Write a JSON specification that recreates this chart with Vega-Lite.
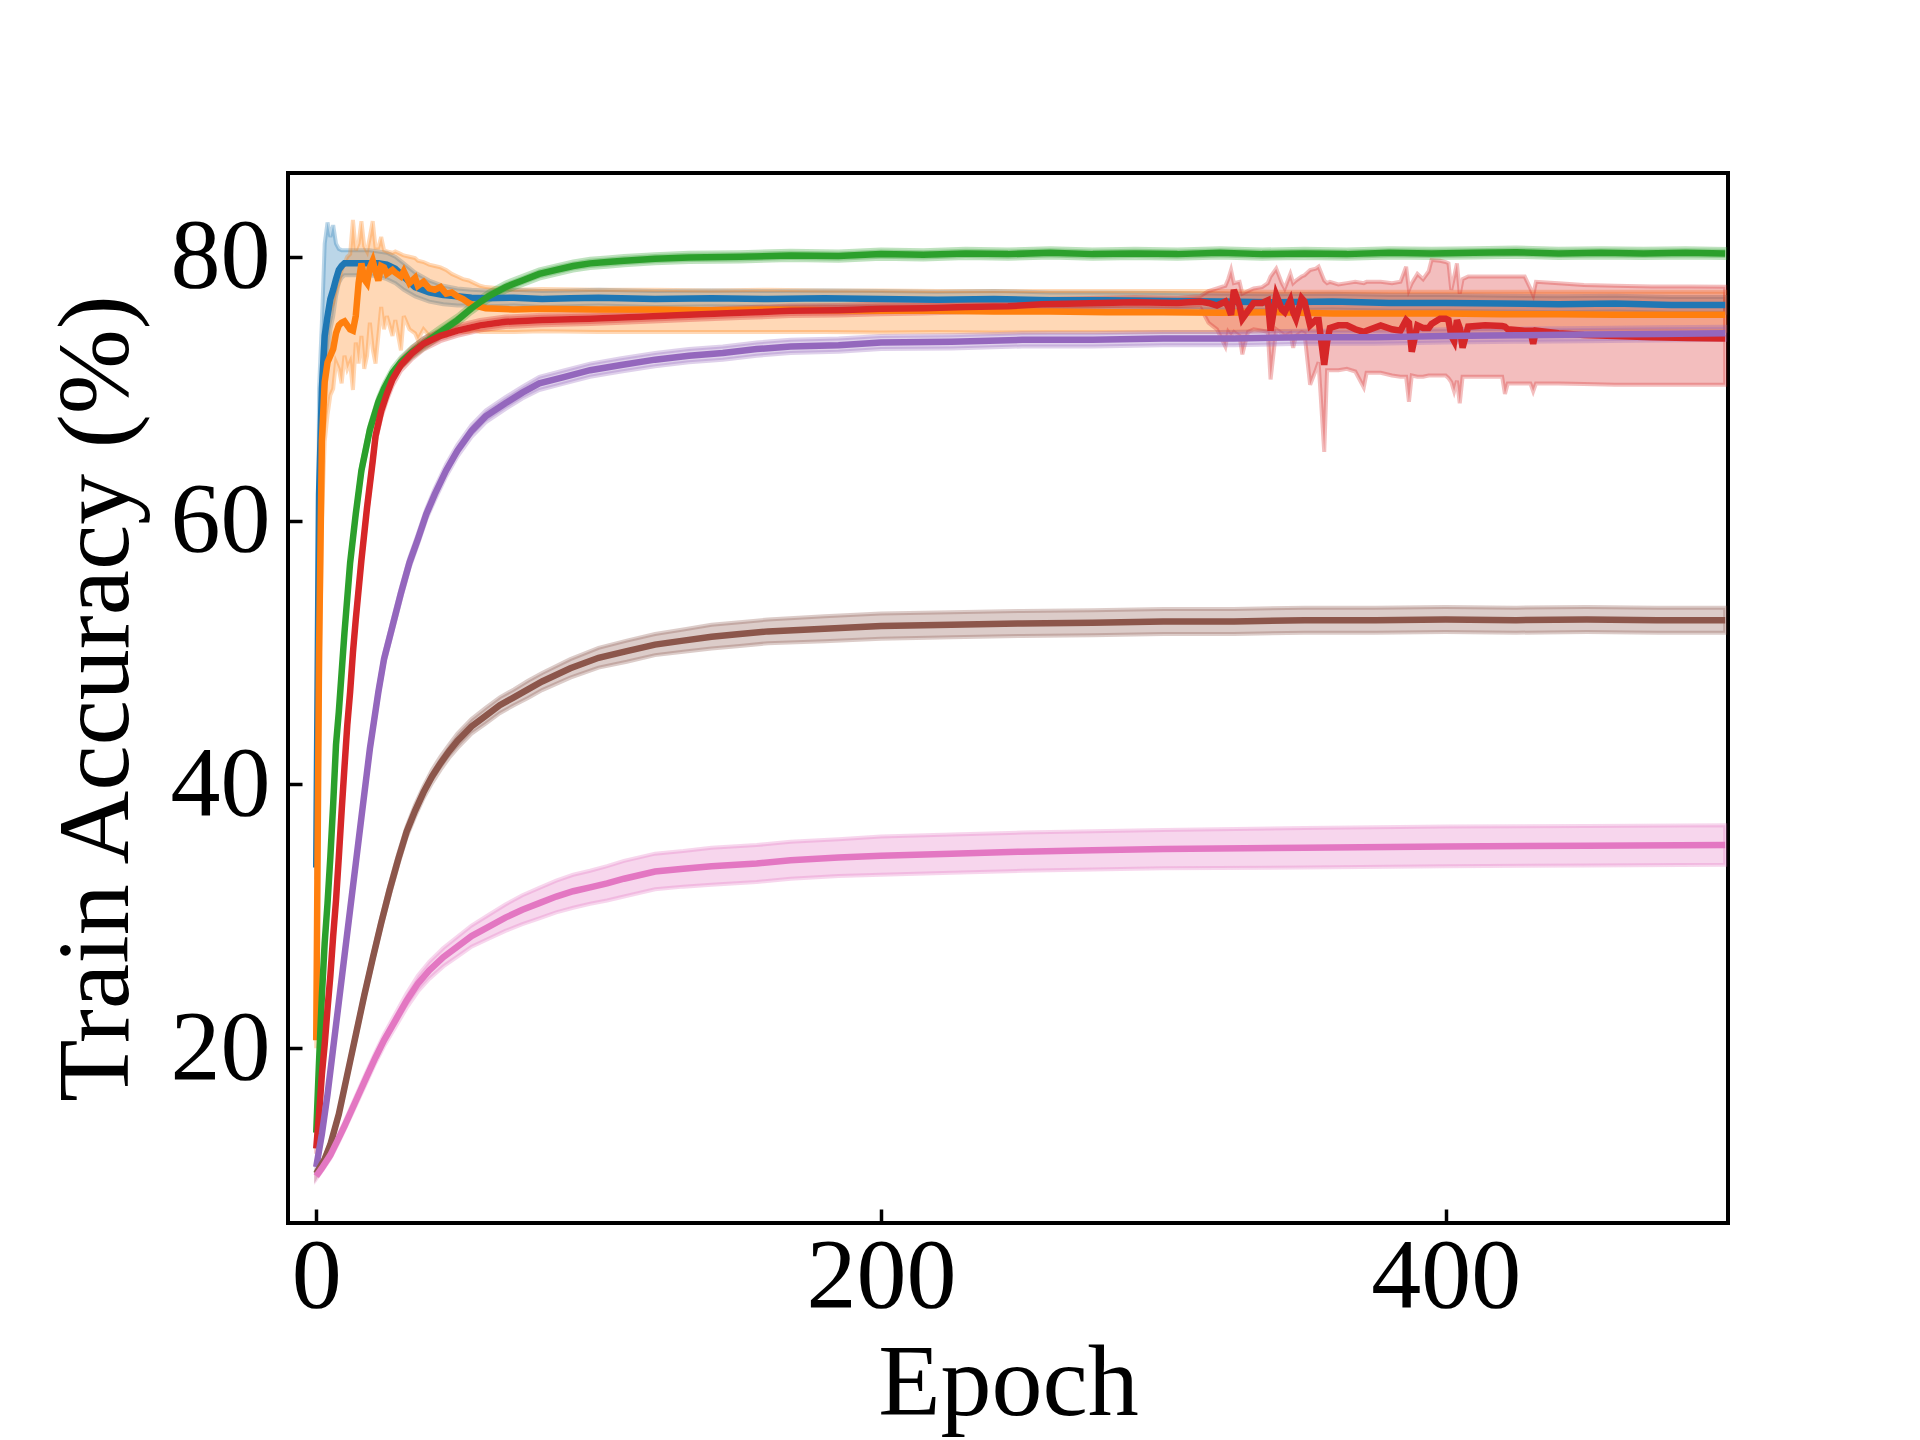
{
  "$schema": "https://vega.github.io/schema/vega-lite/v6.json",
  "width": 1440,
  "height": 1050,
  "autosize": {"type": "none"},
  "padding": {"left": 288, "top": 173, "right": 192, "bottom": 217},
  "background": "white",
  "config": {
    "view": {"stroke": "black", "strokeWidth": 4},
    "axis": {
      "grid": false,
      "domain": false,
      "tickSize": -14,
      "tickWidth": 3.5,
      "tickColor": "black",
      "labelFont": "Liberation Serif",
      "labelFontSize": 100,
      "labelColor": "black",
      "labelFlush": false,
      "labelOverlap": false,
      "titleFont": "Liberation Serif",
      "titleFontSize": 102,
      "titleFontWeight": "normal",
      "titleColor": "black"
    }
  },
  "data": {
    "values": [
      {"s": "s1", "e": 0, "m": 33.7, "l": 32.8, "h": 34.6},
      {"s": "s1", "e": 1, "m": 62, "l": 52, "h": 70},
      {"s": "s1", "e": 2, "m": 70, "l": 64, "h": 75},
      {"s": "s1", "e": 3, "m": 74, "l": 70, "h": 81},
      {"s": "s1", "e": 4, "m": 75.5, "l": 72, "h": 82.6},
      {"s": "s1", "e": 5, "m": 76.8, "l": 74.5, "h": 81.5},
      {"s": "s1", "e": 6, "m": 77.5, "l": 75.5, "h": 82.4},
      {"s": "s1", "e": 7, "m": 78.3, "l": 77, "h": 81},
      {"s": "s1", "e": 8, "m": 79, "l": 78, "h": 80.6},
      {"s": "s1", "e": 9, "m": 79.3, "l": 78.4, "h": 80.5},
      {"s": "s1", "e": 10, "m": 79.5, "l": 78.6, "h": 80.5},
      {"s": "s1", "e": 13, "m": 79.5, "l": 78.6, "h": 80.5},
      {"s": "s1", "e": 16, "m": 79.5, "l": 78.6, "h": 80.5},
      {"s": "s1", "e": 19, "m": 79.5, "l": 78.6, "h": 80.5},
      {"s": "s1", "e": 22, "m": 79.5, "l": 78.5, "h": 80.4},
      {"s": "s1", "e": 25, "m": 79.4, "l": 78.3, "h": 80.3},
      {"s": "s1", "e": 28, "m": 79.1, "l": 78.0, "h": 80.0},
      {"s": "s1", "e": 31, "m": 78.5, "l": 77.5, "h": 79.5},
      {"s": "s1", "e": 35, "m": 77.7, "l": 77.0, "h": 78.8},
      {"s": "s1", "e": 40, "m": 77.3, "l": 76.6, "h": 78.2},
      {"s": "s1", "e": 45, "m": 77.1, "l": 76.4, "h": 77.8},
      {"s": "s1", "e": 50, "m": 77.0, "l": 76.3, "h": 77.6},
      {"s": "s1", "e": 55, "m": 76.9, "l": 76.3, "h": 77.5},
      {"s": "s1", "e": 60, "m": 76.85, "l": 76.25, "h": 77.45},
      {"s": "s1", "e": 70, "m": 76.9, "l": 76.3, "h": 77.5},
      {"s": "s1", "e": 80, "m": 76.8, "l": 76.2, "h": 77.4},
      {"s": "s1", "e": 90, "m": 76.85, "l": 76.25, "h": 77.45},
      {"s": "s1", "e": 100, "m": 76.9, "l": 76.3, "h": 77.5},
      {"s": "s1", "e": 120, "m": 76.8, "l": 76.2, "h": 77.4},
      {"s": "s1", "e": 140, "m": 76.85, "l": 76.25, "h": 77.45},
      {"s": "s1", "e": 160, "m": 76.8, "l": 76.2, "h": 77.4},
      {"s": "s1", "e": 180, "m": 76.85, "l": 76.25, "h": 77.45},
      {"s": "s1", "e": 200, "m": 76.8, "l": 76.2, "h": 77.4},
      {"s": "s1", "e": 220, "m": 76.75, "l": 76.15, "h": 77.35},
      {"s": "s1", "e": 240, "m": 76.8, "l": 76.2, "h": 77.4},
      {"s": "s1", "e": 260, "m": 76.7, "l": 76.1, "h": 77.3},
      {"s": "s1", "e": 280, "m": 76.7, "l": 76.1, "h": 77.3},
      {"s": "s1", "e": 300, "m": 76.65, "l": 76.05, "h": 77.25},
      {"s": "s1", "e": 320, "m": 76.6, "l": 76.0, "h": 77.2},
      {"s": "s1", "e": 340, "m": 76.55, "l": 75.95, "h": 77.15},
      {"s": "s1", "e": 360, "m": 76.6, "l": 76.0, "h": 77.2},
      {"s": "s1", "e": 380, "m": 76.5, "l": 75.9, "h": 77.1},
      {"s": "s1", "e": 400, "m": 76.5, "l": 75.9, "h": 77.1},
      {"s": "s1", "e": 420, "m": 76.45, "l": 75.85, "h": 77.05},
      {"s": "s1", "e": 440, "m": 76.4, "l": 75.8, "h": 77.0},
      {"s": "s1", "e": 460, "m": 76.45, "l": 75.85, "h": 77.05},
      {"s": "s1", "e": 480, "m": 76.35, "l": 75.75, "h": 76.95},
      {"s": "s1", "e": 499, "m": 76.35, "l": 75.75, "h": 76.95},

      {"s": "s2", "e": 0, "m": 20.6, "l": 20.0, "h": 21.2},
      {"s": "s2", "e": 1, "m": 50, "l": 42, "h": 58},
      {"s": "s2", "e": 2, "m": 66, "l": 60, "h": 71},
      {"s": "s2", "e": 3, "m": 70.5, "l": 66, "h": 74},
      {"s": "s2", "e": 4, "m": 72.0, "l": 68, "h": 75.5},
      {"s": "s2", "e": 5, "m": 72.5, "l": 69.5, "h": 76},
      {"s": "s2", "e": 6, "m": 73.0, "l": 70, "h": 76.5},
      {"s": "s2", "e": 7, "m": 74.2, "l": 72, "h": 77.5},
      {"s": "s2", "e": 8, "m": 74.8, "l": 71.5, "h": 78},
      {"s": "s2", "e": 9, "m": 75.0, "l": 70.4, "h": 79},
      {"s": "s2", "e": 10, "m": 75.1, "l": 72.5, "h": 79.5},
      {"s": "s2", "e": 11, "m": 74.8, "l": 71.5, "h": 80},
      {"s": "s2", "e": 12, "m": 74.5, "l": 72, "h": 80.2},
      {"s": "s2", "e": 13, "m": 74.4, "l": 69.9, "h": 82.8},
      {"s": "s2", "e": 14, "m": 75.5, "l": 73.5, "h": 80.5},
      {"s": "s2", "e": 15, "m": 78.0, "l": 71.9, "h": 81},
      {"s": "s2", "e": 16, "m": 79.5, "l": 74, "h": 82.7},
      {"s": "s2", "e": 17, "m": 78.3, "l": 71.5, "h": 80.8},
      {"s": "s2", "e": 18, "m": 78.0, "l": 72.5, "h": 80.4},
      {"s": "s2", "e": 19, "m": 79.2, "l": 75, "h": 81.5},
      {"s": "s2", "e": 20, "m": 79.7, "l": 73, "h": 82.7},
      {"s": "s2", "e": 21, "m": 78.9, "l": 71.9, "h": 80.7},
      {"s": "s2", "e": 22, "m": 78.2, "l": 74, "h": 80.7},
      {"s": "s2", "e": 23, "m": 79.3, "l": 76.2, "h": 81.5},
      {"s": "s2", "e": 24, "m": 79.2, "l": 74.5, "h": 80.5},
      {"s": "s2", "e": 25, "m": 78.7, "l": 75.5, "h": 80.4},
      {"s": "s2", "e": 27, "m": 79.0, "l": 74.0, "h": 80.3},
      {"s": "s2", "e": 28, "m": 78.8, "l": 75.2, "h": 80.4},
      {"s": "s2", "e": 30, "m": 78.5, "l": 72.9, "h": 80.2},
      {"s": "s2", "e": 31, "m": 78.9, "l": 75.5, "h": 80.1},
      {"s": "s2", "e": 33, "m": 78.0, "l": 74.5, "h": 80.0},
      {"s": "s2", "e": 35, "m": 78.4, "l": 74.2, "h": 79.9},
      {"s": "s2", "e": 36, "m": 77.8, "l": 73.7, "h": 79.7},
      {"s": "s2", "e": 38, "m": 78.1, "l": 74.5, "h": 79.6},
      {"s": "s2", "e": 40, "m": 77.6, "l": 74.0, "h": 79.4},
      {"s": "s2", "e": 42, "m": 77.5, "l": 73.9, "h": 79.3},
      {"s": "s2", "e": 44, "m": 77.7, "l": 74.2, "h": 79.2},
      {"s": "s2", "e": 46, "m": 77.2, "l": 74.0, "h": 79.0},
      {"s": "s2", "e": 48, "m": 77.3, "l": 74.3, "h": 78.7},
      {"s": "s2", "e": 50, "m": 77.0, "l": 74.4, "h": 78.5},
      {"s": "s2", "e": 52, "m": 76.8, "l": 74.3, "h": 78.3},
      {"s": "s2", "e": 54, "m": 76.5, "l": 74.3, "h": 78.2},
      {"s": "s2", "e": 56, "m": 76.3, "l": 74.4, "h": 78.0},
      {"s": "s2", "e": 58, "m": 76.2, "l": 74.3, "h": 77.8},
      {"s": "s2", "e": 60, "m": 76.1, "l": 74.3, "h": 77.7},
      {"s": "s2", "e": 70, "m": 76.0, "l": 74.3, "h": 77.5},
      {"s": "s2", "e": 80, "m": 76.05, "l": 74.35, "h": 77.55},
      {"s": "s2", "e": 100, "m": 76.0, "l": 74.3, "h": 77.5},
      {"s": "s2", "e": 120, "m": 76.0, "l": 74.3, "h": 77.5},
      {"s": "s2", "e": 140, "m": 75.95, "l": 74.3, "h": 77.45},
      {"s": "s2", "e": 160, "m": 76.0, "l": 74.3, "h": 77.5},
      {"s": "s2", "e": 180, "m": 75.95, "l": 74.3, "h": 77.45},
      {"s": "s2", "e": 200, "m": 75.9, "l": 74.25, "h": 77.45},
      {"s": "s2", "e": 220, "m": 75.9, "l": 74.3, "h": 77.4},
      {"s": "s2", "e": 240, "m": 75.85, "l": 74.25, "h": 77.4},
      {"s": "s2", "e": 260, "m": 75.85, "l": 74.3, "h": 77.4},
      {"s": "s2", "e": 280, "m": 75.8, "l": 74.3, "h": 77.4},
      {"s": "s2", "e": 300, "m": 75.8, "l": 74.3, "h": 77.4},
      {"s": "s2", "e": 320, "m": 75.75, "l": 74.3, "h": 77.4},
      {"s": "s2", "e": 340, "m": 75.8, "l": 74.35, "h": 77.35},
      {"s": "s2", "e": 360, "m": 75.7, "l": 74.3, "h": 77.35},
      {"s": "s2", "e": 380, "m": 75.7, "l": 74.35, "h": 77.35},
      {"s": "s2", "e": 400, "m": 75.7, "l": 74.35, "h": 77.35},
      {"s": "s2", "e": 420, "m": 75.65, "l": 74.4, "h": 77.35},
      {"s": "s2", "e": 440, "m": 75.65, "l": 74.35, "h": 77.35},
      {"s": "s2", "e": 460, "m": 75.6, "l": 74.4, "h": 77.35},
      {"s": "s2", "e": 480, "m": 75.6, "l": 74.4, "h": 77.35},
      {"s": "s2", "e": 499, "m": 75.6, "l": 74.4, "h": 77.35},

      {"s": "s3", "e": 0, "m": 13.6, "l": 13.2, "h": 14.0},
      {"s": "s3", "e": 1, "m": 19, "l": 18.6, "h": 19.4},
      {"s": "s3", "e": 2, "m": 24, "l": 23.6, "h": 24.4},
      {"s": "s3", "e": 3, "m": 28, "l": 27.6, "h": 28.4},
      {"s": "s3", "e": 4, "m": 31, "l": 30.6, "h": 31.4},
      {"s": "s3", "e": 5, "m": 34.5, "l": 34.1, "h": 34.9},
      {"s": "s3", "e": 6, "m": 38.5, "l": 38.1, "h": 38.9},
      {"s": "s3", "e": 7, "m": 43, "l": 42.6, "h": 43.4},
      {"s": "s3", "e": 8, "m": 45.5, "l": 45.1, "h": 45.9},
      {"s": "s3", "e": 9, "m": 48.5, "l": 48.1, "h": 48.9},
      {"s": "s3", "e": 10, "m": 51.5, "l": 51.1, "h": 51.9},
      {"s": "s3", "e": 12, "m": 56.8, "l": 56.4, "h": 57.2},
      {"s": "s3", "e": 14, "m": 60.5, "l": 60.1, "h": 60.9},
      {"s": "s3", "e": 16, "m": 63.8, "l": 63.4, "h": 64.2},
      {"s": "s3", "e": 19, "m": 66.9, "l": 66.5, "h": 67.3},
      {"s": "s3", "e": 22, "m": 69, "l": 68.6, "h": 69.4},
      {"s": "s3", "e": 24, "m": 70, "l": 69.6, "h": 70.4},
      {"s": "s3", "e": 27, "m": 71.2, "l": 70.8, "h": 71.6},
      {"s": "s3", "e": 30, "m": 72, "l": 71.6, "h": 72.4},
      {"s": "s3", "e": 34, "m": 72.8, "l": 72.4, "h": 73.2},
      {"s": "s3", "e": 38, "m": 73.4, "l": 73.0, "h": 73.8},
      {"s": "s3", "e": 44, "m": 74.3, "l": 73.9, "h": 74.7},
      {"s": "s3", "e": 50, "m": 75.2, "l": 74.85, "h": 75.55},
      {"s": "s3", "e": 55, "m": 76.1, "l": 75.75, "h": 76.45},
      {"s": "s3", "e": 61, "m": 77.0, "l": 76.65, "h": 77.35},
      {"s": "s3", "e": 67, "m": 77.7, "l": 77.35, "h": 78.05},
      {"s": "s3", "e": 73, "m": 78.2, "l": 77.85, "h": 78.55},
      {"s": "s3", "e": 79, "m": 78.7, "l": 78.35, "h": 79.05},
      {"s": "s3", "e": 85, "m": 79.0, "l": 78.65, "h": 79.35},
      {"s": "s3", "e": 91, "m": 79.3, "l": 78.95, "h": 79.65},
      {"s": "s3", "e": 97, "m": 79.5, "l": 79.15, "h": 79.85},
      {"s": "s3", "e": 103, "m": 79.6, "l": 79.25, "h": 79.95},
      {"s": "s3", "e": 109, "m": 79.7, "l": 79.35, "h": 80.05},
      {"s": "s3", "e": 120, "m": 79.85, "l": 79.5, "h": 80.2},
      {"s": "s3", "e": 132, "m": 79.95, "l": 79.6, "h": 80.3},
      {"s": "s3", "e": 150, "m": 80.0, "l": 79.65, "h": 80.35},
      {"s": "s3", "e": 168, "m": 80.1, "l": 79.75, "h": 80.45},
      {"s": "s3", "e": 185, "m": 80.05, "l": 79.7, "h": 80.4},
      {"s": "s3", "e": 200, "m": 80.2, "l": 79.85, "h": 80.55},
      {"s": "s3", "e": 215, "m": 80.15, "l": 79.8, "h": 80.5},
      {"s": "s3", "e": 230, "m": 80.25, "l": 79.9, "h": 80.6},
      {"s": "s3", "e": 245, "m": 80.2, "l": 79.85, "h": 80.55},
      {"s": "s3", "e": 260, "m": 80.3, "l": 79.95, "h": 80.65},
      {"s": "s3", "e": 275, "m": 80.2, "l": 79.85, "h": 80.55},
      {"s": "s3", "e": 290, "m": 80.25, "l": 79.9, "h": 80.6},
      {"s": "s3", "e": 305, "m": 80.2, "l": 79.85, "h": 80.55},
      {"s": "s3", "e": 320, "m": 80.3, "l": 79.95, "h": 80.65},
      {"s": "s3", "e": 335, "m": 80.2, "l": 79.85, "h": 80.55},
      {"s": "s3", "e": 350, "m": 80.25, "l": 79.9, "h": 80.6},
      {"s": "s3", "e": 365, "m": 80.2, "l": 79.85, "h": 80.55},
      {"s": "s3", "e": 380, "m": 80.3, "l": 79.95, "h": 80.65},
      {"s": "s3", "e": 395, "m": 80.25, "l": 79.9, "h": 80.6},
      {"s": "s3", "e": 410, "m": 80.3, "l": 79.95, "h": 80.65},
      {"s": "s3", "e": 425, "m": 80.35, "l": 80.0, "h": 80.7},
      {"s": "s3", "e": 440, "m": 80.25, "l": 79.9, "h": 80.6},
      {"s": "s3", "e": 455, "m": 80.3, "l": 79.95, "h": 80.65},
      {"s": "s3", "e": 470, "m": 80.25, "l": 79.9, "h": 80.6},
      {"s": "s3", "e": 485, "m": 80.3, "l": 79.95, "h": 80.65},
      {"s": "s3", "e": 499, "m": 80.25, "l": 79.9, "h": 80.6},

      {"s": "s4", "e": 0, "m": 12.4, "l": 12.0, "h": 12.8},
      {"s": "s4", "e": 1, "m": 15, "l": 14.5, "h": 15.5},
      {"s": "s4", "e": 2, "m": 18, "l": 17.5, "h": 18.5},
      {"s": "s4", "e": 3, "m": 20.3, "l": 19.8, "h": 20.8},
      {"s": "s4", "e": 4, "m": 23, "l": 22.5, "h": 23.5},
      {"s": "s4", "e": 5, "m": 25.5, "l": 25.0, "h": 26.0},
      {"s": "s4", "e": 6, "m": 28.5, "l": 28.0, "h": 29.0},
      {"s": "s4", "e": 7, "m": 31.2, "l": 30.7, "h": 31.7},
      {"s": "s4", "e": 8, "m": 34.5, "l": 34.0, "h": 35.0},
      {"s": "s4", "e": 9, "m": 38, "l": 37.5, "h": 38.5},
      {"s": "s4", "e": 10, "m": 41.3, "l": 40.8, "h": 41.8},
      {"s": "s4", "e": 11, "m": 44.5, "l": 44.0, "h": 45.0},
      {"s": "s4", "e": 12, "m": 47, "l": 46.5, "h": 47.5},
      {"s": "s4", "e": 13, "m": 50, "l": 49.5, "h": 50.5},
      {"s": "s4", "e": 14, "m": 52.5, "l": 52.0, "h": 53.0},
      {"s": "s4", "e": 16, "m": 57, "l": 56.5, "h": 57.5},
      {"s": "s4", "e": 18, "m": 61, "l": 60.5, "h": 61.5},
      {"s": "s4", "e": 20, "m": 64.5, "l": 64.0, "h": 65.0},
      {"s": "s4", "e": 21, "m": 66.4, "l": 65.9, "h": 66.9},
      {"s": "s4", "e": 23, "m": 68.3, "l": 67.8, "h": 68.8},
      {"s": "s4", "e": 25, "m": 69.6, "l": 69.1, "h": 70.1},
      {"s": "s4", "e": 27, "m": 70.7, "l": 70.2, "h": 71.2},
      {"s": "s4", "e": 30, "m": 71.8, "l": 71.35, "h": 72.25},
      {"s": "s4", "e": 34, "m": 72.7, "l": 72.25, "h": 73.15},
      {"s": "s4", "e": 38, "m": 73.4, "l": 72.95, "h": 73.85},
      {"s": "s4", "e": 44, "m": 74.0, "l": 73.6, "h": 74.4},
      {"s": "s4", "e": 50, "m": 74.4, "l": 74.0, "h": 74.8},
      {"s": "s4", "e": 58, "m": 74.8, "l": 74.4, "h": 75.2},
      {"s": "s4", "e": 67, "m": 75.07, "l": 74.67, "h": 75.47},
      {"s": "s4", "e": 80, "m": 75.2, "l": 74.8, "h": 75.6},
      {"s": "s4", "e": 97, "m": 75.3, "l": 74.9, "h": 75.7},
      {"s": "s4", "e": 115, "m": 75.45, "l": 75.05, "h": 75.85},
      {"s": "s4", "e": 132, "m": 75.6, "l": 75.2, "h": 76.0},
      {"s": "s4", "e": 150, "m": 75.75, "l": 75.35, "h": 76.15},
      {"s": "s4", "e": 168, "m": 75.9, "l": 75.5, "h": 76.3},
      {"s": "s4", "e": 185, "m": 75.95, "l": 75.55, "h": 76.35},
      {"s": "s4", "e": 200, "m": 76.05, "l": 75.65, "h": 76.45},
      {"s": "s4", "e": 215, "m": 76.1, "l": 75.7, "h": 76.5},
      {"s": "s4", "e": 230, "m": 76.2, "l": 75.8, "h": 76.6},
      {"s": "s4", "e": 245, "m": 76.25, "l": 75.85, "h": 76.65},
      {"s": "s4", "e": 257, "m": 76.4, "l": 76.0, "h": 76.8},
      {"s": "s4", "e": 270, "m": 76.45, "l": 76.05, "h": 76.85},
      {"s": "s4", "e": 290, "m": 76.55, "l": 76.15, "h": 76.95},
      {"s": "s4", "e": 305, "m": 76.5, "l": 76.1, "h": 76.9},
      {"s": "s4", "e": 313, "m": 76.6, "l": 76.2, "h": 77.0},
      {"s": "s4", "e": 316, "m": 76.5, "l": 75.0, "h": 77.4},
      {"s": "s4", "e": 319, "m": 76.3, "l": 74.5, "h": 77.6},
      {"s": "s4", "e": 322, "m": 76.6, "l": 73.2, "h": 77.8},
      {"s": "s4", "e": 323, "m": 76.2, "l": 74.3, "h": 78.3},
      {"s": "s4", "e": 324, "m": 75.6, "l": 74.0, "h": 79.0},
      {"s": "s4", "e": 325, "m": 77.5, "l": 74.3, "h": 78.0},
      {"s": "s4", "e": 327, "m": 76.3, "l": 74.0, "h": 78.1},
      {"s": "s4", "e": 328, "m": 75.3, "l": 72.6, "h": 77.2},
      {"s": "s4", "e": 330, "m": 75.9, "l": 74.3, "h": 77.4},
      {"s": "s4", "e": 332, "m": 76.5, "l": 74.5, "h": 77.6},
      {"s": "s4", "e": 335, "m": 76.5, "l": 74.4, "h": 77.7},
      {"s": "s4", "e": 337, "m": 76.7, "l": 74.3, "h": 78.0},
      {"s": "s4", "e": 338, "m": 74.4, "l": 70.7, "h": 78.5},
      {"s": "s4", "e": 340, "m": 77.1, "l": 74.5, "h": 79.1},
      {"s": "s4", "e": 342, "m": 76.0, "l": 74.2, "h": 78.0},
      {"s": "s4", "e": 343, "m": 75.8, "l": 74.0, "h": 77.6},
      {"s": "s4", "e": 345, "m": 76.7, "l": 74.2, "h": 78.7},
      {"s": "s4", "e": 346, "m": 75.8, "l": 73.1, "h": 78.0},
      {"s": "s4", "e": 347, "m": 75.3, "l": 74.0, "h": 78.2},
      {"s": "s4", "e": 349, "m": 76.85, "l": 74.3, "h": 78.5},
      {"s": "s4", "e": 350, "m": 76.6, "l": 74.2, "h": 78.6},
      {"s": "s4", "e": 352, "m": 74.8, "l": 70.3, "h": 79.0},
      {"s": "s4", "e": 354, "m": 75.2, "l": 71.4, "h": 79.1},
      {"s": "s4", "e": 355, "m": 75.2, "l": 72.0, "h": 79.25},
      {"s": "s4", "e": 357, "m": 71.8, "l": 65.2, "h": 78.2},
      {"s": "s4", "e": 358, "m": 73.5, "l": 71.4, "h": 78.0},
      {"s": "s4", "e": 359, "m": 74.6, "l": 71.4, "h": 78.1},
      {"s": "s4", "e": 362, "m": 74.8, "l": 71.4, "h": 77.9},
      {"s": "s4", "e": 365, "m": 74.8, "l": 71.5, "h": 78.0},
      {"s": "s4", "e": 368, "m": 74.5, "l": 71.3, "h": 78.1},
      {"s": "s4", "e": 371, "m": 74.3, "l": 70.1, "h": 78.0},
      {"s": "s4", "e": 372, "m": 74.4, "l": 71.2, "h": 78.1},
      {"s": "s4", "e": 377, "m": 74.8, "l": 71.2, "h": 78.1},
      {"s": "s4", "e": 381, "m": 74.5, "l": 71.0, "h": 78.0},
      {"s": "s4", "e": 384, "m": 74.4, "l": 70.9, "h": 78.1},
      {"s": "s4", "e": 386, "m": 75.2, "l": 70.9, "h": 79.25},
      {"s": "s4", "e": 387, "m": 75.0, "l": 69.0, "h": 77.5},
      {"s": "s4", "e": 388, "m": 72.8, "l": 71.0, "h": 78.0},
      {"s": "s4", "e": 390, "m": 74.8, "l": 70.9, "h": 78.7},
      {"s": "s4", "e": 392, "m": 74.6, "l": 70.9, "h": 78.3},
      {"s": "s4", "e": 394, "m": 74.6, "l": 71.0, "h": 78.9},
      {"s": "s4", "e": 395, "m": 74.9, "l": 71.0, "h": 79.75},
      {"s": "s4", "e": 398, "m": 75.3, "l": 71.0, "h": 79.7},
      {"s": "s4", "e": 400, "m": 75.3, "l": 71.0, "h": 79.6},
      {"s": "s4", "e": 401, "m": 75.2, "l": 70.8, "h": 79.5},
      {"s": "s4", "e": 402, "m": 74.0, "l": 70.5, "h": 77.5},
      {"s": "s4", "e": 403, "m": 73.6, "l": 69.8, "h": 78.5},
      {"s": "s4", "e": 404, "m": 75.2, "l": 70.6, "h": 79.5},
      {"s": "s4", "e": 405, "m": 74.6, "l": 68.9, "h": 77.2},
      {"s": "s4", "e": 406, "m": 73.1, "l": 70.9, "h": 78.3},
      {"s": "s4", "e": 408, "m": 74.7, "l": 70.9, "h": 78.5},
      {"s": "s4", "e": 414, "m": 74.8, "l": 70.9, "h": 78.5},
      {"s": "s4", "e": 420, "m": 74.75, "l": 70.9, "h": 78.5},
      {"s": "s4", "e": 421, "m": 74.7, "l": 69.6, "h": 78.5},
      {"s": "s4", "e": 422, "m": 74.5, "l": 70.4, "h": 78.5},
      {"s": "s4", "e": 428, "m": 74.4, "l": 70.4, "h": 78.5},
      {"s": "s4", "e": 430, "m": 74.4, "l": 70.4, "h": 77.6},
      {"s": "s4", "e": 431, "m": 73.4, "l": 69.8, "h": 77.1},
      {"s": "s4", "e": 432, "m": 74.4, "l": 70.4, "h": 78.1},
      {"s": "s4", "e": 440, "m": 74.2, "l": 70.4, "h": 78.0},
      {"s": "s4", "e": 449, "m": 74.07, "l": 70.35, "h": 77.86},
      {"s": "s4", "e": 460, "m": 74.0, "l": 70.3, "h": 77.8},
      {"s": "s4", "e": 473, "m": 73.9, "l": 70.3, "h": 77.75},
      {"s": "s4", "e": 486, "m": 73.85, "l": 70.3, "h": 77.75},
      {"s": "s4", "e": 499, "m": 73.8, "l": 70.3, "h": 77.73},

      {"s": "s5", "e": 0, "m": 11.0, "l": 10.7, "h": 11.3},
      {"s": "s5", "e": 2, "m": 13.5, "l": 13.2, "h": 13.8},
      {"s": "s5", "e": 4, "m": 16.5, "l": 16.2, "h": 16.8},
      {"s": "s5", "e": 6, "m": 20, "l": 19.7, "h": 20.3},
      {"s": "s5", "e": 8, "m": 23.5, "l": 23.2, "h": 23.8},
      {"s": "s5", "e": 10, "m": 27, "l": 26.7, "h": 27.3},
      {"s": "s5", "e": 12, "m": 30.5, "l": 30.2, "h": 30.8},
      {"s": "s5", "e": 14, "m": 34, "l": 33.7, "h": 34.3},
      {"s": "s5", "e": 16, "m": 37.5, "l": 37.2, "h": 37.8},
      {"s": "s5", "e": 19, "m": 42.7, "l": 42.35, "h": 43.05},
      {"s": "s5", "e": 22, "m": 47, "l": 46.6, "h": 47.4},
      {"s": "s5", "e": 24, "m": 49.5, "l": 49.1, "h": 49.9},
      {"s": "s5", "e": 27, "m": 52, "l": 51.6, "h": 52.4},
      {"s": "s5", "e": 30, "m": 54.5, "l": 54.1, "h": 54.9},
      {"s": "s5", "e": 33, "m": 56.8, "l": 56.4, "h": 57.2},
      {"s": "s5", "e": 36, "m": 58.6, "l": 58.2, "h": 59.0},
      {"s": "s5", "e": 39, "m": 60.5, "l": 60.1, "h": 60.9},
      {"s": "s5", "e": 42, "m": 62, "l": 61.55, "h": 62.45},
      {"s": "s5", "e": 46, "m": 63.8, "l": 63.35, "h": 64.25},
      {"s": "s5", "e": 50, "m": 65.3, "l": 64.85, "h": 65.75},
      {"s": "s5", "e": 55, "m": 66.8, "l": 66.35, "h": 67.25},
      {"s": "s5", "e": 60, "m": 67.9, "l": 67.45, "h": 68.35},
      {"s": "s5", "e": 67, "m": 68.9, "l": 68.45, "h": 69.35},
      {"s": "s5", "e": 73, "m": 69.7, "l": 69.25, "h": 70.15},
      {"s": "s5", "e": 79, "m": 70.4, "l": 69.9, "h": 70.9},
      {"s": "s5", "e": 88, "m": 70.9, "l": 70.4, "h": 71.4},
      {"s": "s5", "e": 97, "m": 71.4, "l": 70.9, "h": 71.9},
      {"s": "s5", "e": 108, "m": 71.8, "l": 71.3, "h": 72.3},
      {"s": "s5", "e": 120, "m": 72.2, "l": 71.7, "h": 72.7},
      {"s": "s5", "e": 132, "m": 72.5, "l": 72.0, "h": 73.0},
      {"s": "s5", "e": 144, "m": 72.7, "l": 72.2, "h": 73.2},
      {"s": "s5", "e": 156, "m": 73.0, "l": 72.5, "h": 73.5},
      {"s": "s5", "e": 168, "m": 73.2, "l": 72.7, "h": 73.7},
      {"s": "s5", "e": 185, "m": 73.3, "l": 72.8, "h": 73.8},
      {"s": "s5", "e": 200, "m": 73.5, "l": 73.0, "h": 74.0},
      {"s": "s5", "e": 225, "m": 73.55, "l": 73.05, "h": 74.05},
      {"s": "s5", "e": 250, "m": 73.7, "l": 73.2, "h": 74.2},
      {"s": "s5", "e": 275, "m": 73.7, "l": 73.2, "h": 74.2},
      {"s": "s5", "e": 300, "m": 73.8, "l": 73.3, "h": 74.3},
      {"s": "s5", "e": 325, "m": 73.8, "l": 73.3, "h": 74.3},
      {"s": "s5", "e": 350, "m": 73.9, "l": 73.4, "h": 74.4},
      {"s": "s5", "e": 375, "m": 73.9, "l": 73.4, "h": 74.4},
      {"s": "s5", "e": 400, "m": 74.0, "l": 73.5, "h": 74.5},
      {"s": "s5", "e": 425, "m": 74.05, "l": 73.55, "h": 74.55},
      {"s": "s5", "e": 450, "m": 74.1, "l": 73.6, "h": 74.6},
      {"s": "s5", "e": 475, "m": 74.15, "l": 73.65, "h": 74.65},
      {"s": "s5", "e": 499, "m": 74.2, "l": 73.7, "h": 74.7},

      {"s": "s6", "e": 0, "m": 10.5, "l": 10.3, "h": 10.7},
      {"s": "s6", "e": 3, "m": 11.6, "l": 11.4, "h": 11.8},
      {"s": "s6", "e": 5, "m": 12.7, "l": 12.5, "h": 12.9},
      {"s": "s6", "e": 8, "m": 15, "l": 14.8, "h": 15.2},
      {"s": "s6", "e": 10, "m": 17, "l": 16.75, "h": 17.25},
      {"s": "s6", "e": 12, "m": 19, "l": 18.75, "h": 19.25},
      {"s": "s6", "e": 14, "m": 21, "l": 20.7, "h": 21.3},
      {"s": "s6", "e": 17, "m": 24, "l": 23.7, "h": 24.3},
      {"s": "s6", "e": 20, "m": 26.8, "l": 26.5, "h": 27.1},
      {"s": "s6", "e": 23, "m": 29.5, "l": 29.15, "h": 29.85},
      {"s": "s6", "e": 26, "m": 32, "l": 31.6, "h": 32.4},
      {"s": "s6", "e": 29, "m": 34.3, "l": 33.9, "h": 34.7},
      {"s": "s6", "e": 32, "m": 36.4, "l": 36.0, "h": 36.8},
      {"s": "s6", "e": 35, "m": 38, "l": 37.55, "h": 38.45},
      {"s": "s6", "e": 38, "m": 39.4, "l": 38.95, "h": 39.85},
      {"s": "s6", "e": 41, "m": 40.6, "l": 40.1, "h": 41.1},
      {"s": "s6", "e": 44, "m": 41.6, "l": 41.1, "h": 42.1},
      {"s": "s6", "e": 47, "m": 42.5, "l": 42.0, "h": 43.0},
      {"s": "s6", "e": 50, "m": 43.3, "l": 42.75, "h": 43.85},
      {"s": "s6", "e": 55, "m": 44.4, "l": 43.85, "h": 44.95},
      {"s": "s6", "e": 60, "m": 45.2, "l": 44.6, "h": 45.8},
      {"s": "s6", "e": 65, "m": 46, "l": 45.4, "h": 46.6},
      {"s": "s6", "e": 70, "m": 46.6, "l": 46.0, "h": 47.2},
      {"s": "s6", "e": 75, "m": 47.2, "l": 46.55, "h": 47.85},
      {"s": "s6", "e": 80, "m": 47.8, "l": 47.15, "h": 48.45},
      {"s": "s6", "e": 90, "m": 48.8, "l": 48.1, "h": 49.5},
      {"s": "s6", "e": 100, "m": 49.6, "l": 48.85, "h": 50.35},
      {"s": "s6", "e": 110, "m": 50.1, "l": 49.3, "h": 50.9},
      {"s": "s6", "e": 120, "m": 50.6, "l": 49.8, "h": 51.4},
      {"s": "s6", "e": 130, "m": 50.9, "l": 50.05, "h": 51.75},
      {"s": "s6", "e": 140, "m": 51.2, "l": 50.3, "h": 52.1},
      {"s": "s6", "e": 150, "m": 51.4, "l": 50.5, "h": 52.3},
      {"s": "s6", "e": 160, "m": 51.6, "l": 50.7, "h": 52.5},
      {"s": "s6", "e": 180, "m": 51.8, "l": 50.85, "h": 52.75},
      {"s": "s6", "e": 200, "m": 52.0, "l": 51.05, "h": 52.95},
      {"s": "s6", "e": 225, "m": 52.1, "l": 51.15, "h": 53.05},
      {"s": "s6", "e": 250, "m": 52.2, "l": 51.25, "h": 53.15},
      {"s": "s6", "e": 275, "m": 52.25, "l": 51.3, "h": 53.2},
      {"s": "s6", "e": 300, "m": 52.35, "l": 51.4, "h": 53.3},
      {"s": "s6", "e": 325, "m": 52.35, "l": 51.4, "h": 53.3},
      {"s": "s6", "e": 350, "m": 52.45, "l": 51.5, "h": 53.4},
      {"s": "s6", "e": 375, "m": 52.45, "l": 51.5, "h": 53.4},
      {"s": "s6", "e": 400, "m": 52.5, "l": 51.55, "h": 53.45},
      {"s": "s6", "e": 425, "m": 52.45, "l": 51.5, "h": 53.4},
      {"s": "s6", "e": 450, "m": 52.5, "l": 51.55, "h": 53.45},
      {"s": "s6", "e": 475, "m": 52.45, "l": 51.5, "h": 53.4},
      {"s": "s6", "e": 499, "m": 52.45, "l": 51.5, "h": 53.4},

      {"s": "s7", "e": 0, "m": 10.3, "l": 10.1, "h": 10.5},
      {"s": "s7", "e": 2, "m": 10.9, "l": 10.7, "h": 11.1},
      {"s": "s7", "e": 5, "m": 11.9, "l": 11.65, "h": 12.15},
      {"s": "s7", "e": 8, "m": 13.2, "l": 12.9, "h": 13.5},
      {"s": "s7", "e": 10, "m": 14.1, "l": 13.8, "h": 14.4},
      {"s": "s7", "e": 14, "m": 16.0, "l": 15.65, "h": 16.35},
      {"s": "s7", "e": 18, "m": 17.9, "l": 17.5, "h": 18.3},
      {"s": "s7", "e": 21, "m": 19.3, "l": 18.9, "h": 19.7},
      {"s": "s7", "e": 24, "m": 20.6, "l": 20.15, "h": 21.05},
      {"s": "s7", "e": 28, "m": 22.1, "l": 21.6, "h": 22.6},
      {"s": "s7", "e": 32, "m": 23.6, "l": 23.05, "h": 24.15},
      {"s": "s7", "e": 36, "m": 24.9, "l": 24.3, "h": 25.5},
      {"s": "s7", "e": 40, "m": 25.9, "l": 25.25, "h": 26.55},
      {"s": "s7", "e": 45, "m": 26.9, "l": 26.2, "h": 27.6},
      {"s": "s7", "e": 50, "m": 27.7, "l": 26.95, "h": 28.45},
      {"s": "s7", "e": 55, "m": 28.5, "l": 27.7, "h": 29.3},
      {"s": "s7", "e": 61, "m": 29.2, "l": 28.3, "h": 30.1},
      {"s": "s7", "e": 67, "m": 29.9, "l": 28.9, "h": 30.9},
      {"s": "s7", "e": 73, "m": 30.5, "l": 29.4, "h": 31.6},
      {"s": "s7", "e": 79, "m": 31.0, "l": 29.85, "h": 32.15},
      {"s": "s7", "e": 85, "m": 31.5, "l": 30.3, "h": 32.7},
      {"s": "s7", "e": 91, "m": 31.9, "l": 30.65, "h": 33.15},
      {"s": "s7", "e": 97, "m": 32.2, "l": 30.95, "h": 33.45},
      {"s": "s7", "e": 103, "m": 32.5, "l": 31.2, "h": 33.8},
      {"s": "s7", "e": 109, "m": 32.85, "l": 31.5, "h": 34.2},
      {"s": "s7", "e": 120, "m": 33.4, "l": 32.05, "h": 34.75},
      {"s": "s7", "e": 130, "m": 33.6, "l": 32.25, "h": 34.95},
      {"s": "s7", "e": 140, "m": 33.8, "l": 32.4, "h": 35.2},
      {"s": "s7", "e": 156, "m": 34.0, "l": 32.6, "h": 35.4},
      {"s": "s7", "e": 168, "m": 34.25, "l": 32.85, "h": 35.65},
      {"s": "s7", "e": 185, "m": 34.45, "l": 33.05, "h": 35.85},
      {"s": "s7", "e": 200, "m": 34.6, "l": 33.15, "h": 36.05},
      {"s": "s7", "e": 225, "m": 34.75, "l": 33.3, "h": 36.2},
      {"s": "s7", "e": 250, "m": 34.9, "l": 33.45, "h": 36.35},
      {"s": "s7", "e": 275, "m": 35.0, "l": 33.55, "h": 36.45},
      {"s": "s7", "e": 300, "m": 35.1, "l": 33.65, "h": 36.55},
      {"s": "s7", "e": 350, "m": 35.2, "l": 33.7, "h": 36.7},
      {"s": "s7", "e": 400, "m": 35.3, "l": 33.8, "h": 36.8},
      {"s": "s7", "e": 450, "m": 35.35, "l": 33.85, "h": 36.85},
      {"s": "s7", "e": 499, "m": 35.4, "l": 33.9, "h": 36.9}
    ]
  },
  "encoding": {
    "x": {
      "field": "e",
      "type": "quantitative",
      "scale": {"domain": [-10, 500], "nice": false, "zero": false},
      "axis": {"values": [0, 200, 400], "title": "Epoch", "labelPadding": 18, "titlePadding": 7}
    }
  },
  "layer": [
    {
      "mark": {"type": "area", "fillOpacity": 0.3, "strokeOpacity": 0.3, "strokeWidth": 4},
      "encoding": {
        "y": {
          "field": "l",
          "type": "quantitative",
          "stack": null,
          "scale": {"domain": [6.75, 86.35], "nice": false, "zero": false},
          "axis": {"values": [20, 40, 60, 80], "title": "Train Accuracy (%)", "labelPadding": 32, "titlePadding": 22}
        },
        "y2": {"field": "h"},
        "color": {
          "field": "s",
          "type": "nominal",
          "legend": null,
          "scale": {
            "domain": ["s1", "s2", "s3", "s4", "s5", "s6", "s7"],
            "range": ["#1f77b4", "#ff7f0e", "#2ca02c", "#d62728", "#9467bd", "#8c564b", "#e377c2"]
          }
        },
        "stroke": {
          "field": "s",
          "type": "nominal",
          "legend": null,
          "scale": {
            "domain": ["s1", "s2", "s3", "s4", "s5", "s6", "s7"],
            "range": ["#1f77b4", "#ff7f0e", "#2ca02c", "#d62728", "#9467bd", "#8c564b", "#e377c2"]
          }
        }
      }
    },
    {
      "mark": {"type": "line", "strokeWidth": 6.5},
      "encoding": {
        "y": {"field": "m", "type": "quantitative"},
        "color": {"field": "s", "type": "nominal", "legend": null}
      }
    }
  ]
}
